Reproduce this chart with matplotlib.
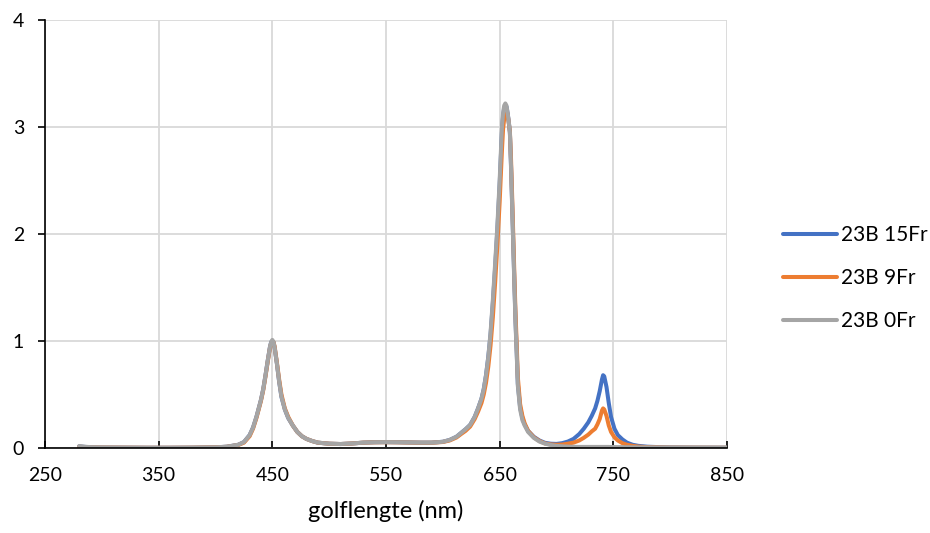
import matplotlib
matplotlib.use('Agg')
import matplotlib.pyplot as plt

plt.rcParams['font.family'] = ['Lato', 'DejaVu Sans']

# golflengte (nm)
golflengte = [280, 285, 290, 300, 320, 340, 360, 380, 400, 410,
              420, 425, 430, 433, 436, 438, 440, 442, 444, 446,
              448, 449, 450, 451, 452, 454, 456, 458, 461, 464,
              468, 472, 476, 480, 485, 490, 500, 510, 520, 530,
              540, 550, 560, 570, 580, 590, 600, 606, 612, 616,
              620, 624, 628, 631, 634, 636, 638, 640, 642, 644,
              646, 648, 650, 652, 653, 654, 655, 656, 657, 658,
              659, 660, 661, 662, 663, 664, 665, 666, 668, 670,
              672, 675, 680, 685, 690, 695, 700, 705, 710, 715,
              720, 724, 728, 731, 734, 736, 738, 740, 741, 742,
              744, 746, 748, 751, 754, 758, 762, 767, 772, 780,
              790, 800, 820, 850]

fr15 = [0.015, 0.01, 0.006, 0.004, 0.003, 0.002, 0.002, 0.003, 0.006, 0.012,
        0.03, 0.055, 0.12, 0.19, 0.29, 0.37, 0.45, 0.55, 0.68, 0.82,
        0.95, 0.99, 1.0, 0.99, 0.94, 0.79, 0.62, 0.48, 0.36, 0.28,
        0.21, 0.15, 0.11, 0.085, 0.065, 0.05, 0.04, 0.037, 0.042, 0.05,
        0.054, 0.055, 0.054, 0.052, 0.05, 0.05, 0.058, 0.075, 0.105, 0.14,
        0.175, 0.215, 0.29, 0.37, 0.46, 0.55, 0.68, 0.85, 1.06, 1.35,
        1.68, 2.04, 2.46, 2.95, 3.1, 3.18, 3.2, 3.19, 3.13, 3.05,
        2.95, 2.64, 2.28, 1.9, 1.53, 1.18, 0.9, 0.6, 0.38, 0.28,
        0.22, 0.16, 0.105, 0.07, 0.048, 0.04, 0.038, 0.045, 0.06, 0.085,
        0.13, 0.18, 0.24, 0.30, 0.37, 0.44, 0.53, 0.64, 0.68, 0.67,
        0.57, 0.42, 0.29, 0.18, 0.12, 0.08, 0.05, 0.03, 0.02, 0.012,
        0.008, 0.005, 0.003, 0.002]

fr9 = [0.012, 0.008, 0.006, 0.004, 0.003, 0.002, 0.002, 0.003, 0.006, 0.011,
       0.028, 0.05, 0.11, 0.18, 0.28, 0.36, 0.44, 0.54, 0.67, 0.81,
       0.94, 0.98, 1.0, 0.99, 0.95, 0.8, 0.64, 0.5, 0.37, 0.29,
       0.21, 0.15, 0.11, 0.085, 0.065, 0.05, 0.04, 0.037, 0.042, 0.05,
       0.053, 0.054, 0.053, 0.051, 0.049, 0.049, 0.056, 0.07, 0.098, 0.13,
       0.16, 0.2, 0.27, 0.34, 0.42, 0.5, 0.61, 0.76, 0.96, 1.22,
       1.54, 1.9, 2.3, 2.78, 2.98, 3.08, 3.14, 3.15, 3.12, 3.04,
       2.96, 2.7, 2.35, 1.98, 1.6, 1.25, 0.97, 0.66, 0.41, 0.3,
       0.23, 0.16, 0.1, 0.065, 0.042, 0.033, 0.03, 0.032, 0.04, 0.05,
       0.07, 0.095, 0.125, 0.155, 0.18, 0.22, 0.27, 0.35, 0.37, 0.36,
       0.3, 0.21, 0.15, 0.1, 0.07, 0.045, 0.03, 0.02, 0.013, 0.008,
       0.006, 0.004, 0.003, 0.002]

fr0 = [0.018, 0.012, 0.008, 0.005, 0.003, 0.002, 0.002, 0.003, 0.006, 0.012,
       0.03, 0.055, 0.12, 0.19, 0.29, 0.37, 0.45, 0.55, 0.68, 0.82,
       0.95, 0.99, 1.01, 0.99, 0.94, 0.79, 0.62, 0.48, 0.36, 0.28,
       0.21, 0.15, 0.11, 0.085, 0.065, 0.05, 0.04, 0.037, 0.042, 0.05,
       0.054, 0.055, 0.054, 0.052, 0.05, 0.05, 0.058, 0.075, 0.105, 0.14,
       0.175, 0.215, 0.29, 0.37, 0.46, 0.55, 0.68, 0.85, 1.08, 1.38,
       1.72, 2.08, 2.5, 3.0, 3.13, 3.2, 3.22, 3.2, 3.13, 3.05,
       2.95, 2.62, 2.25, 1.88, 1.5, 1.15, 0.88, 0.58, 0.36, 0.26,
       0.21, 0.15, 0.095, 0.06, 0.04, 0.028, 0.02, 0.016, 0.013, 0.011,
       0.01, 0.01, 0.01, 0.01, 0.01, 0.01, 0.01, 0.01, 0.01, 0.01,
       0.01, 0.01, 0.009, 0.009, 0.008, 0.008, 0.007, 0.007, 0.006, 0.006,
       0.005, 0.005, 0.004, 0.004]

series = [('23B 15Fr', fr15, '#4472C4'),
          ('23B 9Fr', fr9, '#ED7D31'),
          ('23B 0Fr', fr0, '#A5A5A5')]

fig = plt.figure(figsize=(9.3, 5.33), dpi=100)
ax = fig.add_axes([0.0484, 0.1595, 0.7333, 0.803])

for name, vals, col in series:
    ax.plot(golflengte, vals, color=col, lw=2.9, label=name, solid_capstyle='round')

ax.set_xlim(250, 850)
ax.set_ylim(0, 4)
ax.set_xticks(range(250, 851, 100))
ax.set_yticks(range(0, 5))
ax.grid(True, color='#D9D9D9', lw=1.3)
ax.set_axisbelow(True)

for s in ['top', 'right']:
    ax.spines[s].set_visible(False)
for s in ['left', 'bottom']:
    ax.spines[s].set_color('black')
    ax.spines[s].set_linewidth(1.2)

ax.tick_params(axis='x', direction='in', length=5, width=1.2, labelsize=14, pad=14)
ax.tick_params(axis='y', direction='out', length=5, width=1.2, labelsize=14, pad=10)
ax.set_xlabel('golflengte (nm)', fontsize=17, labelpad=11)

ax.legend(loc='center left', bbox_to_anchor=(1.082, 0.397), frameon=False,
          borderpad=0, borderaxespad=0, fontsize=15, handlelength=2.6,
          handletextpad=0.2, labelspacing=1.1)

fig.savefig('out.png', dpi=100)
